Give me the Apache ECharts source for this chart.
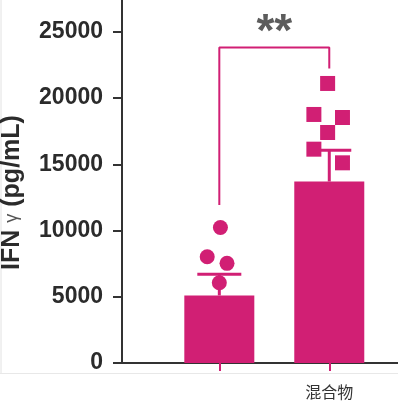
<!DOCTYPE html>
<html>
<head>
<meta charset="utf-8">
<script src="https://cdn.jsdelivr.net/npm/echarts@6/dist/echarts.min.js"></script>
<style>
html,body{margin:0;padding:0;background:#fff;}
#chart{width:398px;height:416px;}
</style>
</head>
<body>
<div id="chart"></div>
<script>
// ---- data ----
const categories = ['', '混合物'];
const categoryPos = [1, 2];
const barMeans = [5100, 13700];
const barErrTop = [6700, 16050];
const circlePoints = [[1.01, 10230], [0.89, 8020], [1.07, 7520], [1.0, 6060]];
const squarePoints = [[1.985, 21100], [1.86, 18760], [2.12, 18530], [1.985, 17400], [1.86, 16140], [2.12, 15110]];
const bracketPoints = [[1, 11920], [1, 23810], [2, 23810], [2, 22230]];
const sigLabel = '**';
const yTickValues = [0, 5000, 10000, 15000, 20000, 25000];

const PINK = '#D11F74';
const DARK = '#333333';

const chart = echarts.init(document.getElementById('chart'));
chart.setOption({
  animation: false,
  backgroundColor: '#ffffff',
  grid: { left: 122, right: 0, top: 0, bottom: 53, outerBoundsMode: 'none', containLabel: false },
  xAxis: {
    type: 'value',
    min: 0.115,
    max: 2.625,
    splitLine: { show: false },
    axisLine: { show: true, lineStyle: { color: DARK, width: 2 } },
    axisTick: { show: true, customValues: categoryPos, length: 8, lineStyle: { color: PINK, width: 2 } },
    axisLabel: {
      customValues: categoryPos,
      formatter: v => categories[Math.round(v) - 1],
      margin: 21,
      color: DARK,
      fontSize: 16,
      fontFamily: 'Noto Sans CJK SC'
    }
  },
  yAxis: {
    type: 'value',
    min: 0,
    max: 27400,
    splitLine: { show: false },
    axisLine: { show: true, lineStyle: { color: DARK, width: 2 } },
    axisTick: { show: true, customValues: yTickValues, length: 9, lineStyle: { color: DARK, width: 2 } },
    axisLabel: {
      customValues: yTickValues,
      formatter: v => String(v),
      margin: 19,
      color: '#2b2b2b',
      fontSize: 23,
      fontWeight: 'bold',
      fontFamily: 'Liberation Sans'
    },
    name: '{b|IFN }{g|γ}{b| (pg/mL)}',
    nameLocation: 'middle',
    nameGap: 97,
    nameRotate: 90,
    nameTextStyle: {
      padding: [0, 22, 0, 0],
      rich: {
        b: { fontSize: 25, fontWeight: 'bold', color: '#2b2b2b', fontFamily: 'Liberation Sans' },
        g: { fontSize: 18, fontWeight: 'normal', color: '#555', fontFamily: 'Liberation Sans' }
      }
    }
  },
  series: [
    {
      type: 'bar',
      data: categoryPos.map((x, i) => [x, barMeans[i]]),
      barWidth: 70,
      itemStyle: { color: PINK },
      z: 2
    },
    {
      type: 'custom',
      data: categoryPos.map((x, i) => [x, barMeans[i], barErrTop[i]]),
      renderItem: function (params, api) {
        const x = api.value(0);
        const p0 = api.coord([x, api.value(1)]);
        const p1 = api.coord([x, api.value(2)]);
        const half = 22;
        return {
          type: 'group',
          children: [
            { type: 'line', shape: { x1: p0[0], y1: p0[1], x2: p1[0], y2: p1[1] }, style: { stroke: PINK, lineWidth: 3 } },
            { type: 'line', shape: { x1: p1[0] - half, y1: p1[1], x2: p1[0] + half, y2: p1[1] }, style: { stroke: PINK, lineWidth: 3 } }
          ]
        };
      },
      z: 3
    },
    {
      type: 'scatter',
      data: circlePoints,
      symbol: 'circle',
      symbolSize: 15,
      itemStyle: { color: PINK, opacity: 1 },
      z: 4
    },
    {
      type: 'scatter',
      data: squarePoints,
      symbol: 'rect',
      symbolSize: 15,
      itemStyle: { color: PINK, opacity: 1 },
      z: 4
    },
    {
      type: 'line',
      data: bracketPoints,
      symbol: 'none',
      lineStyle: { color: PINK, width: 2 },
      z: 4
    },
    {
      type: 'scatter',
      data: [[1.5, 24900]],
      symbolSize: 0,
      label: {
        show: true,
        formatter: sigLabel,
        position: 'inside',
        color: DARK,
        fontSize: 46,
        fontWeight: 'bold',
        fontFamily: 'Liberation Sans'
      },
      z: 5
    }
  ],
  graphic: [
    { type: 'line', shape: { x1: 1, y1: 0, x2: 1, y2: 373 }, style: { stroke: '#e2e2e2', lineWidth: 1 }, silent: true },
    { type: 'line', shape: { x1: 0, y1: 373.5, x2: 398, y2: 373.5 }, style: { stroke: '#e8e8e8', lineWidth: 1 }, silent: true }
  ]
});
</script>
</body>
</html>
